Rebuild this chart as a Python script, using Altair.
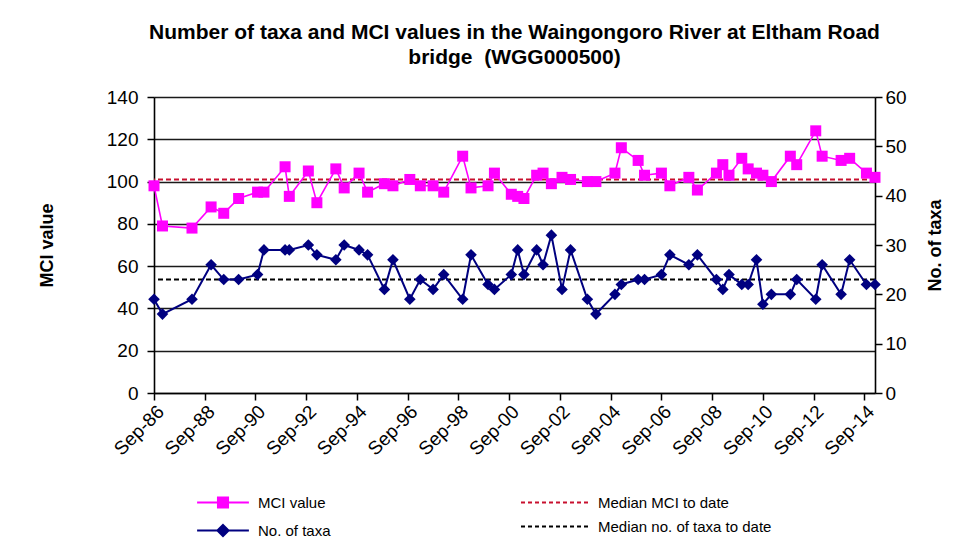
import altair as alt
import pandas as pd

FONT = "Liberation Sans"

# ---- data ----
dates = ["1986-09", "1987-01", "1988-03", "1988-12", "1989-06", "1990-01", "1990-10", "1991-01",
         "1991-11", "1992-01", "1992-10", "1993-02", "1993-11", "1994-03", "1994-10", "1995-02",
         "1995-10", "1996-02", "1996-10", "1997-03", "1997-09", "1998-02", "1998-11", "1999-03",
         "1999-11", "2000-02", "2000-10", "2001-01", "2001-04", "2001-10", "2002-01", "2002-05",
         "2002-10", "2003-02", "2003-10", "2004-02", "2004-11", "2005-02", "2005-10", "2006-01",
         "2006-09", "2007-01", "2007-10", "2008-02", "2008-11", "2009-02", "2009-05", "2009-11",
         "2010-02", "2010-06", "2010-09", "2011-01", "2011-10", "2012-01", "2012-10", "2013-01",
         "2013-10", "2014-02", "2014-10", "2015-02"]
mci_values = [98, 79, 78, 88, 85, 92, 95, 95, 107, 93, 105, 90, 106, 97, 104, 95,
              99, 98, 101, 98, 98, 95, 112, 97, 98, 104, 94, 93, 92, 103, 104, 99,
              102, 101, 100, 100, 104, 116, 110, 103, 104, 98, 102, 96, 104, 108, 103, 111,
              106, 104, 103, 100, 112, 108, 124, 112, 110, 111, 104, 102]
taxa_counts = [19, 16, 19, 26, 23, 23, 24, 29, 29, 29, 30, 28, 27, 30, 29, 28,
               21, 27, 19, 23, 21, 24, 19, 28, 22, 21, 24, 29, 24, 29, 26, 32,
               21, 29, 19, 16, 20, 22, 23, 23, 24, 28, 26, 28, 23, 21, 24, 22,
               22, 27, 18, 20, 20, 23, 19, 26, 20, 27, 22, 22]
median_mci = 101
median_taxa = 23

series_names = ["MCI value", "No. of taxa"]
median_names = ["Median MCI to date", "Median no. of taxa to date"]
x_tick_years = list(range(1986, 2015, 2))
mci_ticks = list(range(0, 141, 20))
taxa_ticks = list(range(0, 61, 10))
title_lines = ["Number of taxa and MCI values in the Waingongoro River at Eltham Road",
               "bridge \u00a0(WGG000500)"]

MAGENTA = "#FF00FF"
NAVY = "#000080"
RED = "#C8102E"
BLACK = "#000000"

mci_df = pd.DataFrame({"date": dates, "value": mci_values, "series": series_names[0]})
taxa_df = pd.DataFrame({"date": dates, "value": taxa_counts, "series": series_names[1]})
mci_med_df = pd.DataFrame({"label": [median_names[0]], "value": [median_mci]})
taxa_med_df = pd.DataFrame({"label": [median_names[1]], "value": [median_taxa]})

# ---- shared encodings ----
x_enc = alt.X(
    "date:T",
    scale=alt.Scale(domain=[alt.DateTime(year=1986, month=9, date=1, utc=True),
                            alt.DateTime(year=2015, month=2, date=1, utc=True)]),
    axis=alt.Axis(values=[alt.DateTime(year=y, month=9, date=1, utc=True) for y in x_tick_years],
                  labelExpr="utcFormat(datum.value, '%b-%y')", labelOverlap=False,
                  labelAngle=315, title=None,
                  labelFont=FONT, labelFontSize=19, labelColor="black", labelPadding=2,
                  tickSize=7, tickColor="black", tickWidth=1.5,
                  domainColor="black", domainWidth=1.6, grid=False),
)

left_axis = alt.Axis(values=mci_ticks, title="MCI value", grid=True, gridColor="#1a1a1a",
                     gridWidth=1.3, tickSize=7, tickColor="black", tickWidth=1.5,
                     domainColor="black", domainWidth=1.6,
                     labelFont=FONT, labelFontSize=19, labelColor="black", labelPadding=9,
                     titleFont=FONT, titleFontSize=18, titleFontWeight="bold", titleColor="black",
                     titleX=-107, titleY=148, titleAngle=270, titleAlign="center",
                     titleBaseline="middle")
right_axis = alt.Axis(values=taxa_ticks, title="No. of taxa", orient="right", grid=False,
                      tickSize=7, tickColor="black", tickWidth=1.5,
                      domainColor="black", domainWidth=1.6,
                      labelFont=FONT, labelFontSize=19, labelColor="black", labelPadding=3,
                      titleFont=FONT, titleFontSize=18, titleFontWeight="bold", titleColor="black",
                      titleX=60, titleY=148, titleAngle=270, titleAlign="center",
                      titleBaseline="middle")

y_left = alt.Y("value:Q", scale=alt.Scale(domain=[0, 140]), axis=left_axis)
y_right = alt.Y("value:Q", scale=alt.Scale(domain=[0, 60]), axis=right_axis)

shape_expr = ("datum.value === 'MCI value' ? "
              "'M-3.7,0H3.7M-0.72,-0.72H0.72V0.72H-0.72Z' : "
              "'M-3.7,0H3.7M0,-0.8L0.8,0L0,0.8L-0.8,0Z'")
fill_expr = "datum.value === 'MCI value' ? '%s' : '%s'" % (MAGENTA, NAVY)

legend_series = alt.Legend(
    orient="none", legendX=61, legendY=397.5, direction="vertical", title=None, padding=0,
    symbolType=alt.ExprRef(expr=shape_expr), symbolFillColor=alt.ExprRef(expr=fill_expr),
    symbolSize=196, symbolStrokeWidth=2,
    labelFont=FONT, labelFontSize=15, labelColor="black", labelOffset=27, rowPadding=8,
    labelLimit=300,
)
legend_medians = alt.Legend(
    orient="none", legendX=394, legendY=397.5, direction="vertical", title=None, padding=0,
    symbolType="M-5,0H5", symbolSize=196, symbolStrokeWidth=2, symbolDash=[4, 3],
    labelFont=FONT, labelFontSize=15, labelColor="black", labelOffset=34, rowPadding=8,
    labelLimit=300,
)

color_enc = alt.Color("series:N", scale=alt.Scale(domain=series_names, range=[MAGENTA, NAVY]),
                      legend=legend_series)
stroke_enc = alt.Stroke("label:N", scale=alt.Scale(domain=median_names, range=[RED, BLACK]),
                        legend=legend_medians)

mci_line = alt.Chart(mci_df).mark_line(
    strokeWidth=1.6,
    point=alt.OverlayMarkDef(shape="square", filled=True, size=121, opacity=1),
).encode(x=x_enc, y=y_left, color=color_enc)

mci_median = alt.Chart(mci_med_df).mark_rule(strokeWidth=2, strokeDash=[5, 3]).encode(
    y=y_left, stroke=stroke_enc)

taxa_line = alt.Chart(taxa_df).mark_line(
    strokeWidth=2,
    point=alt.OverlayMarkDef(shape="diamond", filled=True, size=135, opacity=1),
).encode(x=x_enc, y=y_right, color=color_enc)

taxa_median = alt.Chart(taxa_med_df).mark_rule(strokeWidth=2, strokeDash=[5, 3]).encode(
    y=y_right, stroke=stroke_enc)

mci_layer = alt.layer(mci_median, mci_line)
taxa_layer = alt.layer(taxa_median, taxa_line)

chart = alt.layer(mci_layer, taxa_layer).resolve_scale(y="independent").properties(
    width=721,
    height=296,
    title=alt.TitleParams(text=title_lines, font=FONT, fontSize=21, fontWeight="bold",
                          color="black", anchor="middle", offset=20, lineHeight=25),
    autosize=alt.AutoSizeParams(type="none"),
    padding={"left": 146, "top": 89, "right": 88, "bottom": 145},
).configure_view(stroke=None).configure(background="white")

chart.save("out.html", embed_options={"renderer": "svg", "actions": False})
